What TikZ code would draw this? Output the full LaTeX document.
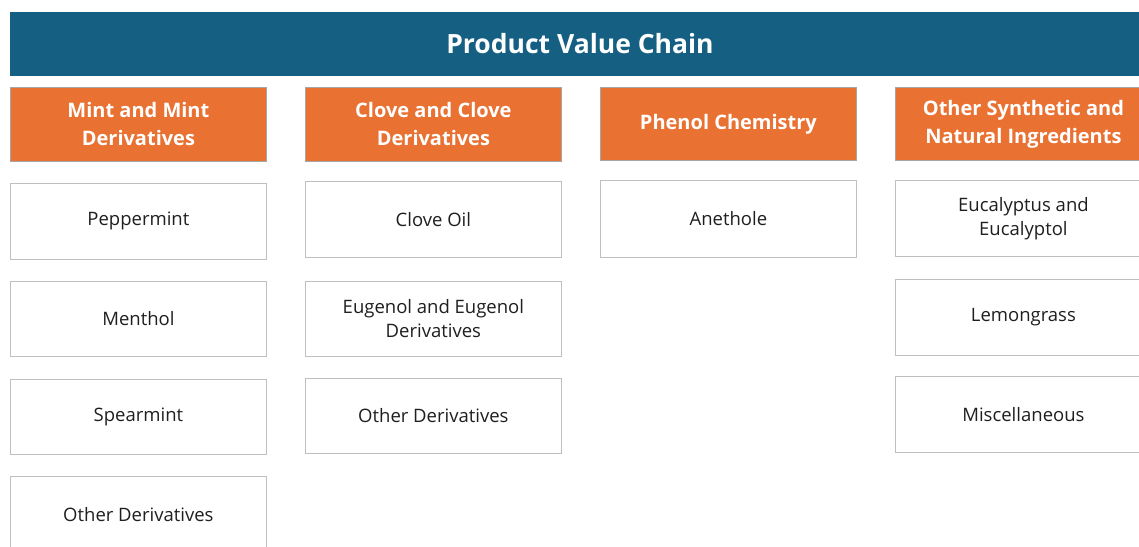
\documentclass[tikz,border=0pt]{standalone}
\usepackage{fontspec}
\setmainfont{Open Sans}
\definecolor{titleblue}{HTML}{155F82}
\definecolor{headorange}{HTML}{E97132}
\definecolor{headedge}{HTML}{A6A6A6}
\definecolor{boxedge}{HTML}{BFBFBF}
\definecolor{bodytext}{HTML}{1F1F1F}
\begin{document}
\begin{tikzpicture}[x=1pt,y=-1pt,
  titlebar/.style={fill=titleblue,draw=none,anchor=north west,minimum width=1160pt,minimum height=64pt,inner sep=0pt},
  titletxt/.style={text=white,inner sep=0pt,font=\fontsize{26.5}{30}\selectfont\bfseries},
  headbox/.style={fill=headorange,draw=headedge,line width=0.8pt,anchor=north west,minimum width=256pt,minimum height=74pt,inner sep=0pt,align=center,text=white,font=\fontsize{20}{28}\selectfont\bfseries},
  itembox/.style={fill=white,draw=boxedge,line width=0.8pt,anchor=north west,minimum width=256pt,minimum height=76pt,inner sep=0pt,align=center,text=bodytext,font=\fontsize{18.5}{24}\selectfont}]
\useasboundingbox (0,0) rectangle (1139,546);
\clip (0,0) rectangle (1139,546);
% title
\node[titlebar] (title) at (10,12) {};
\node[titletxt] (titletext) at (580,44) {Product Value Chain};
% headers
\node[headbox] (h1) at (10,87) {Mint and Mint\\Derivatives};
\node[headbox] (h2) at (305,87) {Clove and Clove\\Derivatives};
\node[headbox,minimum height=73pt] (h3) at (600,87) {Phenol Chemistry};
\node[headbox,minimum height=73pt] (h4) at (895,87) {Other Synthetic and\\Natural Ingredients};
% column 1
\node[itembox] (c1a) at (10,183) {Peppermint};
\node[itembox,minimum height=75pt] (c1b) at (10,281) {Menthol};
\node[itembox,minimum height=75pt] (c1c) at (10,379) {Spearmint};
\node[itembox] (c1d) at (10,476) {Other Derivatives};
% column 2
\node[itembox] (c2a) at (305,181) {Clove Oil};
\node[itembox,minimum height=75pt] (c2b) at (305,281) {Eugenol and Eugenol\\Derivatives};
\node[itembox,minimum height=75pt] (c2c) at (305,378) {Other Derivatives};
% column 3
\node[itembox,minimum height=77pt] (c3a) at (600,180) {Anethole};
% column 4
\node[itembox] (c4a) at (895,180) {Eucalyptus and\\Eucalyptol};
\node[itembox] (c4b) at (895,279) {Lemongrass};
\node[itembox] (c4c) at (895,376) {Miscellaneous};
\end{tikzpicture}
\end{document}
